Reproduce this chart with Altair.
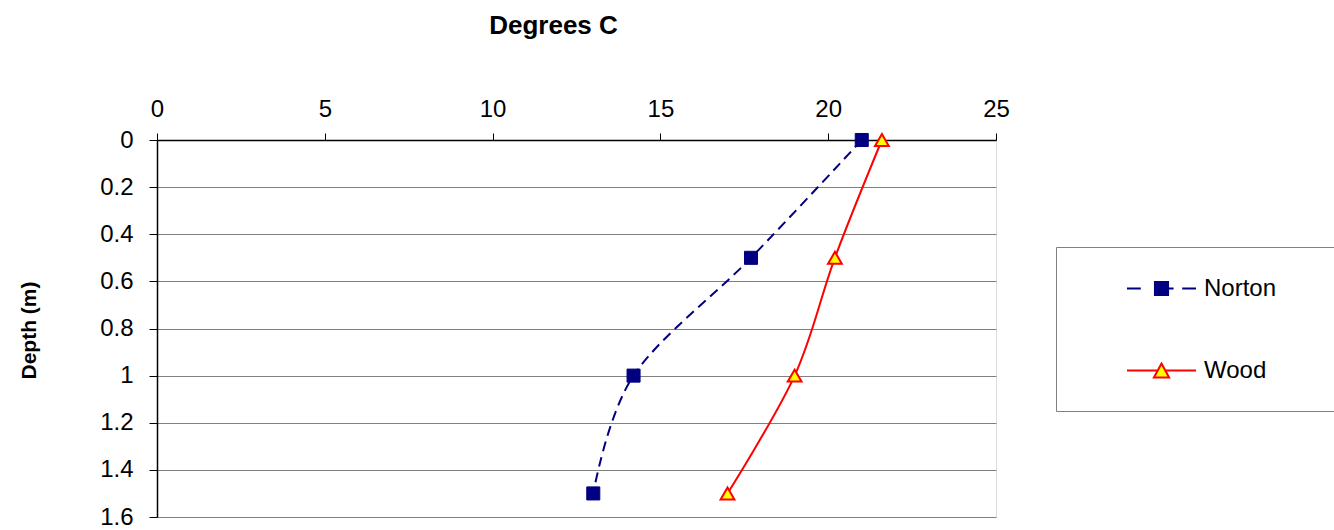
import altair as alt
import pandas as pd

# ---- data ----
series_names = ["Norton", "Wood"]
depth_m = [0.0, 0.5, 1.0, 1.5]
norton_temp = [21.0, 17.7, 14.2, 13.0]
wood_temp = [21.6, 20.2, 19.0, 17.0]
x_ticks = [0, 5, 10, 15, 20, 25]
y_ticks = [0, 0.2, 0.4, 0.6, 0.8, 1.0, 1.2, 1.4, 1.6]

rows = []
for d, t in zip(depth_m, norton_temp):
    rows.append({"series": "Norton", "depth": d, "temp": t})
for d, t in zip(depth_m, wood_temp):
    rows.append({"series": "Wood", "depth": d, "temp": t})
df = pd.DataFrame(rows)

FONT = "Liberation Sans"
NAVY = "#000080"
RED = "#FF0000"
YELLOW = "#FFFF00"
GRAY = "#808080"

x_enc = alt.X(
    "temp:Q",
    scale=alt.Scale(domain=[0, 25], nice=False, zero=True),
    axis=alt.Axis(
        orient="top", values=x_ticks, grid=False, title="Degrees C", labelFlush=False,
        tickSize=7, tickColor="black", domainColor="black", domainWidth=1.5,
        labelPadding=12, labelFontSize=24, labelFont=FONT, labelColor="black",
        titleFont=FONT, titleFontSize=26, titleFontWeight="bold", titleColor="black",
        titleX=396, titleY=-107, titleAlign="center", titleBaseline="alphabetic",
    ),
)
y_enc = alt.Y(
    "depth:Q",
    scale=alt.Scale(domain=[0, 1.6], reverse=True, nice=False),
    axis=alt.Axis(
        values=y_ticks, format="~g", grid=True, gridColor=GRAY, gridWidth=1,
        title="Depth (m)", labelFlush=False,
        tickSize=8, tickColor="black", domainColor="black", domainWidth=1.5,
        labelPadding=16, labelFontSize=24, labelFont=FONT, labelColor="black",
        titleFont=FONT, titleFontSize=21, titleFontWeight="bold", titleColor="black",
        titleX=-122, titleY=190, titleAngle=270, titleAlign="center",
        titleBaseline="alphabetic",
    ),
)

base = alt.Chart(df)

line_norton = base.transform_filter(alt.datum.series == "Norton").mark_line(
    strokeWidth=2, interpolate="cardinal", color=NAVY, strokeDash=[10, 6]
).encode(x=x_enc, y=y_enc, order=alt.Order("depth:Q"))

line_wood = base.transform_filter(alt.datum.series == "Wood").mark_line(
    strokeWidth=2, interpolate="cardinal", color=RED
).encode(x="temp:Q", y="depth:Q", order=alt.Order("depth:Q"))

pts_norton = base.transform_filter(alt.datum.series == "Norton").mark_point(
    shape="square", filled=True, fill=NAVY, stroke=NAVY, strokeWidth=1, size=170, opacity=1
).encode(x="temp:Q", y="depth:Q")

pts_wood = base.transform_filter(alt.datum.series == "Wood").mark_point(
    shape="triangle-up", filled=True, fill=YELLOW, stroke=RED, strokeWidth=2, size=190, opacity=1
).encode(x="temp:Q", y="depth:Q")

# legend symbols: line segment with the marker in the middle
path_norton = "M-1,0H-0.6M-0.19,-0.19H0.19V0.19H-0.19ZM0.19,0H0.35M0.6,0H1"
path_wood = "M-1,0H-0.11M0.11,0H1M0,-0.2L0.22,0.2L-0.22,0.2Z"

blank = "\u2800"
pad = blank * 3
legend_layer = base.mark_point(opacity=0, strokeWidth=2).encode(
    x="temp:Q",
    y="depth:Q",
    shape=alt.Shape(
        "series:N", title=blank,
        scale=alt.Scale(domain=series_names, range=[path_norton, path_wood]),
        legend=alt.Legend(
            orient="none", legendX=899, legendY=107,
            symbolSize=4761, symbolStrokeWidth=2, symbolOpacity=1, symbolOffset=64,
            labelFont=FONT, labelFontSize=24, labelColor="black", labelOffset=7,
            labelExpr="datum.label + '" + pad + "'", labelLimit=600,
            titleOrient="bottom", titleFontSize=14, titlePadding=8, titleFont=FONT,
            padding=6, rowPadding=34,
            strokeColor=GRAY, fillColor="white",
        ),
    ),
    fill=alt.Fill("series:N", title=blank, scale=alt.Scale(domain=series_names, range=[NAVY, YELLOW])),
    stroke=alt.Stroke("series:N", title=blank, scale=alt.Scale(domain=series_names, range=[NAVY, RED])),
)

chart = alt.layer(line_norton, line_wood, pts_norton, pts_wood, legend_layer).properties(
    width=839, height=377,
    autosize=alt.AutoSizeParams(type="none"),
    padding={"left": 157, "top": 140, "right": 338, "bottom": 13},
    background="white",
).configure_view(stroke=GRAY, strokeWidth=2).configure(font=FONT)

chart.save("out.html", embed_options={"renderer": "svg", "actions": False})
